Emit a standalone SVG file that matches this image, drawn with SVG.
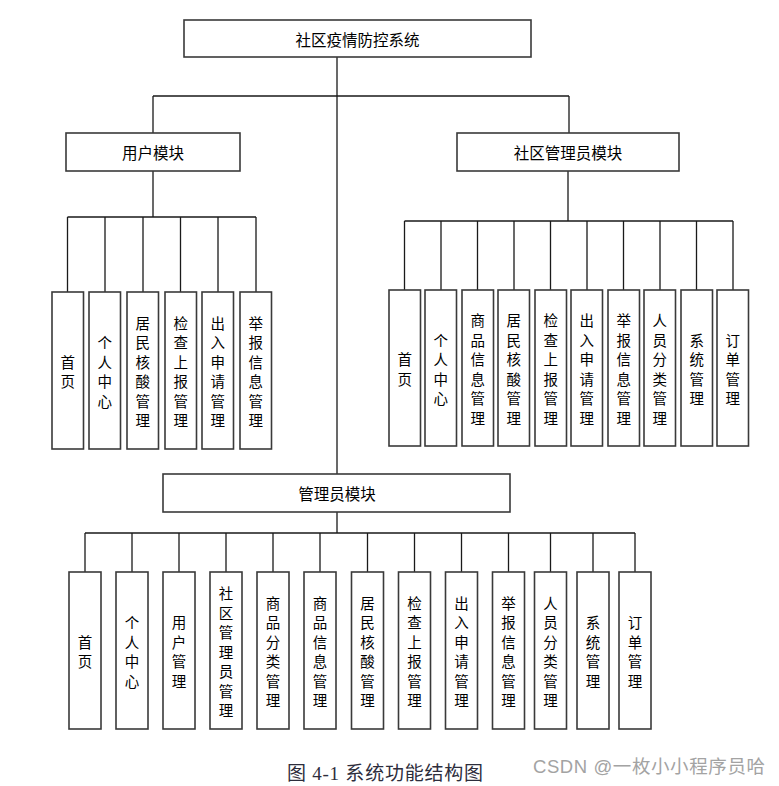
<svg xmlns="http://www.w3.org/2000/svg" width="779" height="786" viewBox="0 0 779 786">
<style>
.bg{fill:#ffffff}
.box{fill:#ffffff;stroke:#3a3a3a;stroke-width:1.6}
.ln{fill:none;stroke:#1a1a1a;stroke-width:1.3}
.t{font-family:"Noto Sans CJK SC","Liberation Sans",sans-serif;font-size:14.5px;fill:#000;text-anchor:middle;dominant-baseline:central}
.h{font-size:15.5px}
.cap{font-family:"Liberation Serif","Noto Sans CJK SC",serif;font-size:19px;fill:#2d2d3c}
.wm{font-family:"Liberation Sans","Noto Sans CJK SC",sans-serif;font-size:18.5px;fill:#a3a3a3}
</style>
<rect class="bg" x="0" y="0" width="779" height="786"/>
<g id="connectors">
<path class="ln" d="M337,57V474 M153,96H569 M153,96V133 M569,96V133"/>
<path class="ln" d="M153,171V217 M67.5,217H256 M67.5,217V292 M105,217V292 M143,217V292 M180.5,217V292 M218,217V292 M256,217V292"/>
<path class="ln" d="M568,171V221 M404.5,221H733 M404.5,221V290 M441,221V290 M477.5,221V290 M514,221V290 M550.5,221V290 M587,221V290 M623.5,221V290 M660,221V290 M696.5,221V290 M733,221V290"/>
<path class="ln" d="M337,512V533 M85,533H635 M85,533V572 M132,533V572 M179,533V572 M226,533V572 M273,533V572 M320,533V572 M367.5,533V572 M414.5,533V572 M461.5,533V572 M508.5,533V572 M550.5,533V572 M593,533V572 M635,533V572"/>
</g>
<g id="root"><rect class="box" x="184" y="20" width="347" height="37"/><text class="t h" x="357.5" y="39">社区疫情防控系统</text></g>
<g id="user-module"><rect class="box" x="66" y="133" width="174" height="38"/><text class="t h" x="153" y="152">用户模块</text></g>
<g id="community-module"><rect class="box" x="457" y="133" width="222" height="38"/><text class="t h" x="568" y="152">社区管理员模块</text></g>
<g id="admin-module"><rect class="box" x="163" y="474" width="347" height="38"/><text class="t h" x="337" y="493">管理员模块</text></g>

<g id="u1"><rect class="box" x="52" y="292" width="31.5" height="157"/><text class="t" x="67.75"><tspan x="67.75" y="360.75">首</tspan><tspan x="67.75" y="380.25">页</tspan></text></g>
<g id="u2"><rect class="box" x="89" y="292" width="31.5" height="157"/><text class="t"><tspan x="104.75" y="341.25">个</tspan><tspan x="104.75" y="360.75">人</tspan><tspan x="104.75" y="380.25">中</tspan><tspan x="104.75" y="399.75">心</tspan></text></g>
<g id="u3"><rect class="box" x="127" y="292" width="31.5" height="157"/><text class="t"><tspan x="142.75" y="321.75">居</tspan><tspan x="142.75" y="341.25">民</tspan><tspan x="142.75" y="360.75">核</tspan><tspan x="142.75" y="380.25">酸</tspan><tspan x="142.75" y="399.75">管</tspan><tspan x="142.75" y="419.25">理</tspan></text></g>
<g id="u4"><rect class="box" x="165" y="292" width="31.5" height="157"/><text class="t"><tspan x="180.75" y="321.75">检</tspan><tspan x="180.75" y="341.25">查</tspan><tspan x="180.75" y="360.75">上</tspan><tspan x="180.75" y="380.25">报</tspan><tspan x="180.75" y="399.75">管</tspan><tspan x="180.75" y="419.25">理</tspan></text></g>
<g id="u5"><rect class="box" x="202" y="292" width="31.5" height="157"/><text class="t"><tspan x="217.75" y="321.75">出</tspan><tspan x="217.75" y="341.25">入</tspan><tspan x="217.75" y="360.75">申</tspan><tspan x="217.75" y="380.25">请</tspan><tspan x="217.75" y="399.75">管</tspan><tspan x="217.75" y="419.25">理</tspan></text></g>
<g id="u6"><rect class="box" x="240" y="292" width="31.5" height="157"/><text class="t"><tspan x="255.75" y="321.75">举</tspan><tspan x="255.75" y="341.25">报</tspan><tspan x="255.75" y="360.75">信</tspan><tspan x="255.75" y="380.25">息</tspan><tspan x="255.75" y="399.75">管</tspan><tspan x="255.75" y="419.25">理</tspan></text></g>

<g id="c1"><rect class="box" x="389" y="290" width="31.5" height="156"/><text class="t"><tspan x="404.75" y="358.25">首</tspan><tspan x="404.75" y="377.75">页</tspan></text></g>
<g id="c2"><rect class="box" x="425" y="290" width="31.5" height="156"/><text class="t"><tspan x="440.75" y="338.75">个</tspan><tspan x="440.75" y="358.25">人</tspan><tspan x="440.75" y="377.75">中</tspan><tspan x="440.75" y="397.25">心</tspan></text></g>
<g id="c3"><rect class="box" x="462" y="290" width="31.5" height="156"/><text class="t"><tspan x="477.75" y="319.25">商</tspan><tspan x="477.75" y="338.75">品</tspan><tspan x="477.75" y="358.25">信</tspan><tspan x="477.75" y="377.75">息</tspan><tspan x="477.75" y="397.25">管</tspan><tspan x="477.75" y="416.75">理</tspan></text></g>
<g id="c4"><rect class="box" x="498" y="290" width="31.5" height="156"/><text class="t"><tspan x="513.75" y="319.25">居</tspan><tspan x="513.75" y="338.75">民</tspan><tspan x="513.75" y="358.25">核</tspan><tspan x="513.75" y="377.75">酸</tspan><tspan x="513.75" y="397.25">管</tspan><tspan x="513.75" y="416.75">理</tspan></text></g>
<g id="c5"><rect class="box" x="535" y="290" width="31.5" height="156"/><text class="t"><tspan x="550.75" y="319.25">检</tspan><tspan x="550.75" y="338.75">查</tspan><tspan x="550.75" y="358.25">上</tspan><tspan x="550.75" y="377.75">报</tspan><tspan x="550.75" y="397.25">管</tspan><tspan x="550.75" y="416.75">理</tspan></text></g>
<g id="c6"><rect class="box" x="571" y="290" width="31.5" height="156"/><text class="t"><tspan x="586.75" y="319.25">出</tspan><tspan x="586.75" y="338.75">入</tspan><tspan x="586.75" y="358.25">申</tspan><tspan x="586.75" y="377.75">请</tspan><tspan x="586.75" y="397.25">管</tspan><tspan x="586.75" y="416.75">理</tspan></text></g>
<g id="c7"><rect class="box" x="608" y="290" width="31.5" height="156"/><text class="t"><tspan x="623.75" y="319.25">举</tspan><tspan x="623.75" y="338.75">报</tspan><tspan x="623.75" y="358.25">信</tspan><tspan x="623.75" y="377.75">息</tspan><tspan x="623.75" y="397.25">管</tspan><tspan x="623.75" y="416.75">理</tspan></text></g>
<g id="c8"><rect class="box" x="644" y="290" width="31.5" height="156"/><text class="t"><tspan x="659.75" y="319.25">人</tspan><tspan x="659.75" y="338.75">员</tspan><tspan x="659.75" y="358.25">分</tspan><tspan x="659.75" y="377.75">类</tspan><tspan x="659.75" y="397.25">管</tspan><tspan x="659.75" y="416.75">理</tspan></text></g>
<g id="c9"><rect class="box" x="681" y="290" width="31.5" height="156"/><text class="t"><tspan x="696.75" y="338.75">系</tspan><tspan x="696.75" y="358.25">统</tspan><tspan x="696.75" y="377.75">管</tspan><tspan x="696.75" y="397.25">理</tspan></text></g>
<g id="c10"><rect class="box" x="717" y="290" width="31.5" height="156"/><text class="t"><tspan x="732.75" y="338.75">订</tspan><tspan x="732.75" y="358.25">单</tspan><tspan x="732.75" y="377.75">管</tspan><tspan x="732.75" y="397.25">理</tspan></text></g>

<g id="a1"><rect class="box" x="69" y="572" width="32" height="157"/><text class="t"><tspan x="85" y="640.75">首</tspan><tspan x="85" y="660.25">页</tspan></text></g>
<g id="a2"><rect class="box" x="116" y="572" width="32" height="157"/><text class="t"><tspan x="132" y="621.25">个</tspan><tspan x="132" y="640.75">人</tspan><tspan x="132" y="660.25">中</tspan><tspan x="132" y="679.75">心</tspan></text></g>
<g id="a3"><rect class="box" x="163" y="572" width="32" height="157"/><text class="t"><tspan x="179" y="621.25">用</tspan><tspan x="179" y="640.75">户</tspan><tspan x="179" y="660.25">管</tspan><tspan x="179" y="679.75">理</tspan></text></g>
<g id="a4"><rect class="box" x="210" y="572" width="32" height="157"/><text class="t"><tspan x="226" y="592">社</tspan><tspan x="226" y="611.5">区</tspan><tspan x="226" y="631">管</tspan><tspan x="226" y="650.5">理</tspan><tspan x="226" y="670">员</tspan><tspan x="226" y="689.5">管</tspan><tspan x="226" y="709">理</tspan></text></g>
<g id="a5"><rect class="box" x="257" y="572" width="32" height="157"/><text class="t"><tspan x="273" y="601.75">商</tspan><tspan x="273" y="621.25">品</tspan><tspan x="273" y="640.75">分</tspan><tspan x="273" y="660.25">类</tspan><tspan x="273" y="679.75">管</tspan><tspan x="273" y="699.25">理</tspan></text></g>
<g id="a6"><rect class="box" x="304" y="572" width="32" height="157"/><text class="t"><tspan x="320" y="601.75">商</tspan><tspan x="320" y="621.25">品</tspan><tspan x="320" y="640.75">信</tspan><tspan x="320" y="660.25">息</tspan><tspan x="320" y="679.75">管</tspan><tspan x="320" y="699.25">理</tspan></text></g>
<g id="a7"><rect class="box" x="351.5" y="572" width="32" height="157"/><text class="t"><tspan x="367.5" y="601.75">居</tspan><tspan x="367.5" y="621.25">民</tspan><tspan x="367.5" y="640.75">核</tspan><tspan x="367.5" y="660.25">酸</tspan><tspan x="367.5" y="679.75">管</tspan><tspan x="367.5" y="699.25">理</tspan></text></g>
<g id="a8"><rect class="box" x="398.5" y="572" width="32" height="157"/><text class="t"><tspan x="414.5" y="601.75">检</tspan><tspan x="414.5" y="621.25">查</tspan><tspan x="414.5" y="640.75">上</tspan><tspan x="414.5" y="660.25">报</tspan><tspan x="414.5" y="679.75">管</tspan><tspan x="414.5" y="699.25">理</tspan></text></g>
<g id="a9"><rect class="box" x="445.5" y="572" width="32" height="157"/><text class="t"><tspan x="461.5" y="601.75">出</tspan><tspan x="461.5" y="621.25">入</tspan><tspan x="461.5" y="640.75">申</tspan><tspan x="461.5" y="660.25">请</tspan><tspan x="461.5" y="679.75">管</tspan><tspan x="461.5" y="699.25">理</tspan></text></g>
<g id="a10"><rect class="box" x="492.5" y="572" width="32" height="157"/><text class="t"><tspan x="508.5" y="601.75">举</tspan><tspan x="508.5" y="621.25">报</tspan><tspan x="508.5" y="640.75">信</tspan><tspan x="508.5" y="660.25">息</tspan><tspan x="508.5" y="679.75">管</tspan><tspan x="508.5" y="699.25">理</tspan></text></g>
<g id="a11"><rect class="box" x="534.5" y="572" width="32" height="157"/><text class="t"><tspan x="550.5" y="601.75">人</tspan><tspan x="550.5" y="621.25">员</tspan><tspan x="550.5" y="640.75">分</tspan><tspan x="550.5" y="660.25">类</tspan><tspan x="550.5" y="679.75">管</tspan><tspan x="550.5" y="699.25">理</tspan></text></g>
<g id="a12"><rect class="box" x="577" y="572" width="32" height="157"/><text class="t"><tspan x="593" y="621.25">系</tspan><tspan x="593" y="640.75">统</tspan><tspan x="593" y="660.25">管</tspan><tspan x="593" y="679.75">理</tspan></text></g>
<g id="a13"><rect class="box" x="619" y="572" width="32" height="157"/><text class="t"><tspan x="635" y="621.25">订</tspan><tspan x="635" y="640.75">单</tspan><tspan x="635" y="660.25">管</tspan><tspan x="635" y="679.75">理</tspan></text></g>

<text class="cap" x="287" y="780" textLength="196" lengthAdjust="spacing">图 4-1 系统功能结构图</text>
<text class="wm" x="533" y="773" textLength="232" lengthAdjust="spacing">CSDN @一枚小小程序员哈</text>
</svg>
